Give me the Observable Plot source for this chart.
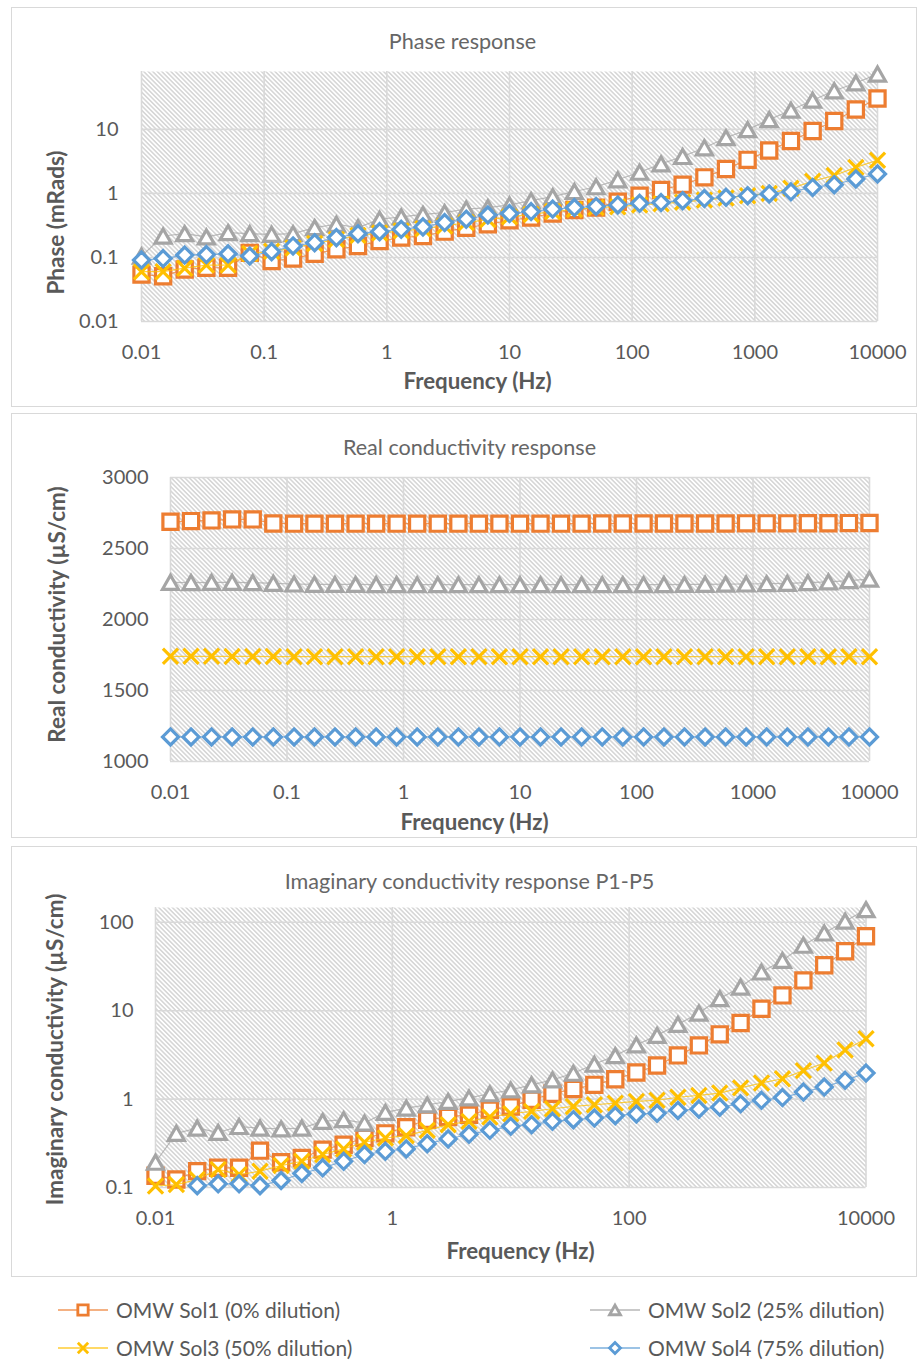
<!DOCTYPE html>
<html><head><meta charset="utf-8">
<script src="https://cdn.jsdelivr.net/npm/d3@7"></script>
<script src="https://cdn.jsdelivr.net/npm/@observablehq/plot@0.6"></script>
<style>
body{margin:0;background:#fff;}
#root{position:relative;width:917px;height:1360px;font-family:Lato,"Open Sans",sans-serif;overflow:hidden;}
.box{position:absolute;border:1px solid #d9d9d9;box-sizing:border-box;}
.plot{position:absolute;left:0;}
.leg{position:absolute;font-size:21px;color:#595959;white-space:nowrap;line-height:22px;}
</style></head><body><div id="root"></div>
<script>
// ---------- data ----------
const freq = [0.01,0.015,0.0225,0.0338,0.0508,0.0763,0.115,0.172,0.258,0.388,0.582,0.873,1.31,1.97,2.96,4.44,6.66,10,15,22.5,33.8,50.8,76.3,115,172,258,388,582,873,1310,1970,2960,4440,6660,10000];

const seriesNames = ["OMW Sol1 (0% dilution)","OMW Sol2 (25% dilution)","OMW Sol3 (50% dilution)","OMW Sol4 (75% dilution)"];
const seriesColors = ["#ED7D31","#A5A5A5","#FFC000","#5B9BD5"];

// Phase (mRads)
const phaseSol1 = [0.054,0.051,0.065,0.069,0.069,0.118,0.088,0.096,0.114,0.134,0.151,0.18,0.204,0.216,0.253,0.29,0.33,0.38,0.42,0.485,0.55,0.60,0.74,0.92,1.13,1.37,1.78,2.41,3.34,4.68,6.56,9.4,13.5,20.4,30.3];
const phaseSol2 = [0.105,0.216,0.235,0.209,0.244,0.235,0.23,0.235,0.292,0.33,0.292,0.395,0.43,0.47,0.50,0.57,0.60,0.66,0.77,0.89,1.07,1.27,1.63,2.14,2.89,3.77,5.15,7.4,9.9,14.2,19.9,28.5,40,53,73];
const phaseSol3 = [0.06,0.06,0.068,0.076,0.076,0.115,0.125,0.14,0.165,0.19,0.22,0.24,0.26,0.28,0.31,0.35,0.39,0.43,0.47,0.52,0.56,0.6,0.62,0.66,0.69,0.73,0.79,0.85,0.92,1.0,1.2,1.55,1.9,2.55,3.3];
const phaseSol4 = [0.091,0.096,0.109,0.111,0.114,0.105,0.123,0.151,0.17,0.204,0.235,0.253,0.275,0.30,0.35,0.395,0.46,0.485,0.52,0.57,0.60,0.625,0.66,0.70,0.72,0.77,0.83,0.87,0.92,0.98,1.06,1.24,1.37,1.68,2.01];

// Real conductivity (µS/cm)
const realSol1 = [2688,2693,2698,2705,2705,2676,2675,2675,2675,2675,2675,2675,2675,2675,2675,2675,2675,2675,2675,2675,2675,2676,2676,2676,2676,2676,2676,2676,2677,2677,2677,2678,2678,2679,2680];
const realSol2 = [2262,2260,2262,2262,2260,2255,2250,2248,2247,2247,2246,2246,2245,2245,2245,2245,2245,2245,2245,2245,2245,2245,2245,2246,2246,2247,2248,2249,2250,2252,2255,2259,2265,2274,2285];
const realSol3 = [1741,1741,1741,1740,1740,1739,1738,1738,1738,1738,1738,1738,1738,1738,1738,1738,1738,1738,1738,1738,1738,1738,1738,1738,1738,1738,1738,1738,1738,1738,1738,1738,1738,1738,1738];
const realSol4 = [1173,1173,1173,1173,1173,1173,1173,1173,1173,1173,1173,1173,1173,1173,1173,1173,1173,1173,1173,1173,1173,1173,1173,1173,1173,1173,1173,1173,1173,1173,1173,1173,1173,1173,1173];

// Imaginary conductivity (µS/cm)
const imagSol1 = [0.136,0.123,0.153,0.167,0.167,0.261,0.193,0.216,0.268,0.305,0.363,0.41,0.48,0.585,0.627,0.666,0.758,0.826,0.98,1.15,1.30,1.45,1.68,2.0,2.4,3.12,4.05,5.4,7.25,10.5,14.9,22,32.6,47,69.5];
const imagSol2 = [0.193,0.41,0.47,0.42,0.49,0.47,0.46,0.47,0.56,0.585,0.536,0.707,0.79,0.86,0.94,1.03,1.15,1.27,1.45,1.65,1.96,2.48,3.1,4.1,5.26,7.0,9.4,13.7,18.5,27.4,37,55,75.7,103,139];
const imagSol3 = [0.104,0.108,0.123,0.16,0.14,0.153,0.177,0.198,0.236,0.273,0.325,0.363,0.386,0.443,0.514,0.56,0.627,0.683,0.726,0.778,0.826,0.863,0.90,0.94,0.97,1.05,1.1,1.17,1.34,1.52,1.70,2.1,2.56,3.6,4.82];
const imagSol4 = [0.092,0.095,0.105,0.11,0.11,0.105,0.12,0.144,0.167,0.198,0.236,0.257,0.273,0.313,0.354,0.40,0.443,0.492,0.514,0.56,0.585,0.61,0.65,0.68,0.69,0.745,0.77,0.81,0.885,0.97,1.04,1.2,1.37,1.63,1.97];

// ticks
const xTicksDecades = [0.01,0.1,1,10,100,1000,10000];
const xTicksImag = [0.01,1,100,10000];
const yTicksPhase = [0.01,0.1,1,10];
const yTicksReal = [1000,1500,2000,2500,3000];
const yTicksImag = [0.1,1,10,100];

// ---------- symbols ----------
const symSquare = {draw(c){c.moveTo(-7.6,-7.6);c.lineTo(7.6,-7.6);c.lineTo(7.6,7.6);c.lineTo(-7.6,7.6);c.closePath();}};
const symTriangle = {draw(c){c.moveTo(0,-7);c.lineTo(8,7);c.lineTo(-8,7);c.closePath();}};
const symX = {draw(c){c.moveTo(-7.6,-7.6);c.lineTo(7.6,7.6);c.moveTo(-7.6,7.6);c.lineTo(7.6,-7.6);}};
const symDiamond = {draw(c){c.moveTo(0,-8);c.lineTo(8,0);c.lineTo(0,8);c.lineTo(-8,0);c.closePath();}};
const symbols = [symSquare, symTriangle, symX, symDiamond];

const root = document.getElementById("root");
const TXT = "#595959";

function panel(cfg){
  const {hatchId, top, height, ml, mr, mt, mb, xDomain, yDomain, yType, xGrid, yGrid, xTicks, yTicks, values,
         title, titleX, titleY, xTitle, xTitleX, xTitleY, yTitle, yTitleX, yTitleY, yLabDx} = cfg;
  const box = document.createElement("div");
  box.className = "box";
  Object.assign(box.style, {left:"11px", top: top+"px", width:"906px", height: height+"px"});
  root.appendChild(box);

  const frameTop = top + mt, frameBottom = top + height - mb;
  const marks = [
    Plot.frame({fill: `url(#${hatchId})`, stroke: "none"}),
    Plot.ruleX(xGrid, {x: d => d, stroke: "#d9d9d9", strokeWidth: 1.6}),
    Plot.ruleY(yGrid, {y: d => d, stroke: "#d9d9d9", strokeWidth: 1.6})
  ];
  values.forEach((arr, s) => {
    const rows = freq.map((f, i) => ({f, v: arr[i]}));
    marks.push(Plot.line(rows, {x: "f", y: "v", stroke: seriesColors[s], strokeWidth: 1.2, strokeOpacity: 0.75, clip: true}));
    marks.push(Plot.dot(rows.filter(d => d.v >= yDomain[0] && d.v <= yDomain[1]), {x: "f", y: "v", symbol: symbols[s], r: 5, stroke: seriesColors[s], strokeWidth: 3.2, fill: s === 2 ? "none" : "white", strokeLinejoin: "miter"}));
  });
  marks.push(
    Plot.text(xTicks, {x: d => d, text: d => String(d), frameAnchor: "bottom", dy: 31, fontSize: 20, fill: TXT, lineAnchor: "middle"}),
    Plot.text(yTicks, {y: d => d, text: d => String(d), frameAnchor: "left", dx: yLabDx, textAnchor: "end", fontSize: 20, fill: TXT, lineAnchor: "middle"}),
    Plot.text([title], {text: d => d, frameAnchor: "top-left", dx: titleX - ml, dy: titleY - frameTop, fontSize: 21.6, fill: "#666666", textAnchor: "middle", lineAnchor: "middle"}),
    Plot.text([xTitle], {text: d => d, frameAnchor: "bottom-left", dx: xTitleX - ml, dy: xTitleY - frameBottom, fontSize: 22.3, fontWeight: "bold", fill: TXT, textAnchor: "middle", lineAnchor: "middle"}),
    Plot.text([yTitle], {text: d => d, frameAnchor: "top-left", dx: yTitleX - ml, dy: yTitleY - frameTop, fontSize: 22.5, fontWeight: "bold", fill: TXT, textAnchor: "middle", lineAnchor: "middle", rotate: -90})
  );
  const svg = Plot.plot({
    width: 917, height, marginLeft: ml, marginRight: mr, marginTop: mt, marginBottom: mb,
    x: {type: "log", domain: xDomain, axis: null},
    y: {type: yType, domain: yDomain, axis: null},
    style: {fontFamily: "Lato, 'Open Sans', sans-serif", background: "transparent", overflow: "visible"},
    marks
  });
  const w = 3.2;
  d3.select(svg).insert("defs", ":first-child").html(
    `<pattern id="${hatchId}" patternUnits="userSpaceOnUse" width="${w}" height="${w}" patternTransform="rotate(-45)">
       <rect width="${w}" height="${w}" fill="#ffffff"/>
       <line x1="${w/2}" y1="0" x2="${w/2}" y2="${w}" stroke="#c8c8c8" stroke-width="1.15"/>
     </pattern>`);
  svg.classList.add("plot");
  svg.style.top = top + "px";
  root.appendChild(svg);
}

panel({hatchId: "h1", top: 7, height: 400, ml: 141, mr: 40, mt: 64, mb: 86,
  xDomain: [0.01, 10000], yDomain: [0.01, 80], yType: "log",
  xGrid: xTicksDecades, yGrid: yTicksPhase, xTicks: xTicksDecades, yTicks: yTicksPhase,
  values: [phaseSol1, phaseSol2, phaseSol3, phaseSol4],
  title: "Phase response", titleX: 462, titleY: 42,
  xTitle: "Frequency (Hz)", xTitleX: 477, xTitleY: 381,
  yTitle: "Phase (mRads)", yTitleX: 56, yTitleY: 222, yLabDx: -23});

panel({hatchId: "h2", top: 413, height: 425, ml: 170, mr: 48, mt: 64, mb: 77,
  xDomain: [0.01, 10000], yDomain: [1000, 3000], yType: "linear",
  xGrid: xTicksDecades, yGrid: yTicksReal, xTicks: xTicksDecades, yTicks: yTicksReal,
  values: [realSol1, realSol2, realSol3, realSol4],
  title: "Real conductivity response", titleX: 469, titleY: 448,
  xTitle: "Frequency (Hz)", xTitleX: 474, xTitleY: 822,
  yTitle: "Real conductivity (µS/cm)", yTitleX: 57, yTitleY: 614, yLabDx: -22});

panel({hatchId: "h3", top: 846, height: 431, ml: 155, mr: 51.5, mt: 61, mb: 90,
  xDomain: [0.01, 10000], yDomain: [0.1, 147], yType: "log",
  xGrid: xTicksImag, yGrid: yTicksImag, xTicks: xTicksImag, yTicks: yTicksImag,
  values: [imagSol1, imagSol2, imagSol3, imagSol4],
  title: "Imaginary conductivity response P1-P5", titleX: 469, titleY: 882,
  xTitle: "Frequency (Hz)", xTitleX: 520, xTitleY: 1251,
  yTitle: "Imaginary conductivity (µS/cm)", yTitleX: 55, yTitleY: 1049, yLabDx: -22});

// ---------- legend ----------
const legPos = [[58, 1310], [590, 1310], [58, 1348], [590, 1348]];
seriesNames.forEach((name, s) => {
  const [lx, ly] = legPos[s];
  const ns = "http://www.w3.org/2000/svg";
  const sw = document.createElementNS(ns, "svg");
  sw.setAttribute("width", 52); sw.setAttribute("height", 24);
  Object.assign(sw.style, {position: "absolute", left: lx + "px", top: (ly - 12) + "px", overflow: "visible"});
  const g = d3.select(sw);
  g.append("line").attr("x1", 0).attr("x2", 50).attr("y1", 12).attr("y2", 12)
    .attr("stroke", seriesColors[s]).attr("stroke-width", 1.5).attr("stroke-opacity", 0.8);
  g.append("path").attr("d", d3.symbol(symbols[s])()).attr("transform", "translate(25,12) scale(0.68)")
    .attr("fill", s === 2 ? "none" : "white").attr("stroke", seriesColors[s]).attr("stroke-width", 4.2);
  root.appendChild(sw);
  const t = document.createElement("div");
  t.className = "leg";
  t.textContent = name;
  Object.assign(t.style, {left: (lx + 58) + "px", top: (ly - 11) + "px"});
  root.appendChild(t);
});
</script></body></html>
